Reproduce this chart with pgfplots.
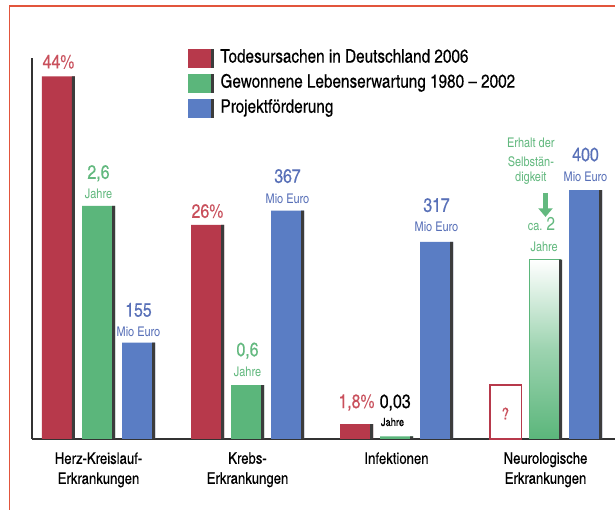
\documentclass[border=0pt]{standalone}
\usepackage{fontspec}
\setmainfont{texgyreheroscn}[Extension=.otf, UprightFont=*-regular, BoldFont=*-bold, ItalicFont=*-italic, BoldItalicFont=*-bolditalic, UprightFeatures={FakeBold=0.3}]
\newfontfamily\lightf{texgyreheroscn}[Extension=.otf, UprightFont=*-regular, BoldFont=*-bold]
\usepackage{pgfplots}
\pgfplotsset{compat=1.18}
\usetikzlibrary{arrows.meta}
\definecolor{cred}{HTML}{B7394B}
\definecolor{cgreen}{HTML}{5BB67B}
\definecolor{cblue}{HTML}{5A7DC4}
\definecolor{tred}{HTML}{C9505C}
\definecolor{tgreen}{HTML}{63B97F}
\definecolor{tblue}{HTML}{5870B8}
\definecolor{shadow}{HTML}{3C3C3C}
\definecolor{framec}{HTML}{E2553C}
\definecolor{axisc}{HTML}{333333}
\newcommand{\numf}{\fontsize{14.5}{16}\selectfont}
\newcommand{\legf}{\fontsize{14}{16}\selectfont}
\newcommand{\unitf}{\lightf\fontsize{10}{11}\selectfont}
\pgfplotsset{base/.style={
  at={(24pt,53.25pt)}, anchor=south west,
  width=437.25pt, height=285.75pt, scale only axis,
  xmin=-0.4463, xmax=3.4664, ymin=0,
  ybar, bar width=24.75pt, clip=false,
  xtick=\empty, ytick=\empty}}
\begin{document}
\begin{tikzpicture}
\useasboundingbox (0,0) rectangle (461.25pt,382.5pt);
\fill[white] (0,0) rectangle (461.25pt,382.5pt);
\draw[framec, line width=1.1pt] (7pt,0) -- (7pt,378pt) -- (461.25pt,378pt);

% red series: Todesursachen (percent)
\begin{axis}[base, ymax=46.24,
  axis x line=bottom, axis y line=left,
  axis line style={axisc, line width=1.5pt, -},
  xtick={0,1,2,3}, major tick length=0pt,
  xticklabels={{Herz-Kreislauf-\\Erkrankungen},{Krebs-\\Erkrankungen},{Infektionen},{Neurologische\\Erkrankungen}},
  xticklabel style={align=center, anchor=north, inner sep=0pt, yshift=-9.75pt, font=\fontsize{12}{15}\selectfont, text=black},
  legend style={at={(0.2676,1.0236)}, anchor=north west, draw=none, fill=none,
    inner sep=0pt, outer sep=0pt, row sep=4.9pt,
    nodes={inner sep=0pt, text height=10pt, text depth=3.5pt, font=\legf, anchor=west},
    /tikz/every odd column/.append style={column sep=5.25pt}},
  legend cell align=left]
\addplot[fill=cred, draw=none, bar shift=-30pt, forget plot] coordinates {(0,44) (1,26) (2,1.8)};
\addplot[fill=shadow, draw=none, bar width=2.25pt, bar shift=-18.75pt, forget plot] coordinates {(0,44) (1,26) (2,1.8)};
\addplot[fill=white, draw=cred, line width=1pt, bar width=23.5pt, bar shift=-30pt, forget plot] coordinates {(3,6.55)};
\addlegendimage{legend image code/.code={\fill[cred] (0pt,-6.75pt) rectangle (18.75pt,6.75pt); \fill[shadow] (17.25pt,-6.75pt) rectangle (18.75pt,6.75pt);}}
\addlegendentry{Todesursachen in Deutschland 2006}
\addlegendimage{legend image code/.code={\fill[cgreen] (0pt,-6.75pt) rectangle (18.75pt,6.75pt); \fill[shadow] (17.25pt,-6.75pt) rectangle (18.75pt,6.75pt);}}
\addlegendentry{Gewonnene Lebenserwartung 1980 -- 2002}
\addlegendimage{legend image code/.code={\fill[cblue] (0pt,-6.75pt) rectangle (18.75pt,6.75pt); \fill[shadow] (17.25pt,-6.75pt) rectangle (18.75pt,6.75pt);}}
\addlegendentry{Projektförderung}
\node[tred, font=\numf, anchor=base, inner sep=0pt, xshift=-30pt, yshift=6pt] at (axis cs:0,44) {44\%};
\node[tred, font=\numf, anchor=base, inner sep=0pt, xshift=-30pt, yshift=5.25pt] at (axis cs:1,26) {26\%};
\node[tred, font=\numf, anchor=base, inner sep=0pt, xshift=-30pt] at (axis cs:2,3.76) {1,8\%};
\node[black, font=\numf, anchor=base, inner sep=0pt, xshift=-1pt] at (axis cs:2,3.76) {0,03};
\node[black, font=\fontsize{8.5}{9}\selectfont, anchor=base, inner sep=0pt, xshift=-3pt] at (axis cs:2,1.58) {Jahre};
\node[tred, font=\fontsize{12}{12}\selectfont, inner sep=0pt, xshift=-30pt] at (axis cs:3,3.1) {?};
\end{axis}

% green series: Lebenserwartung (years)
\begin{axis}[base, ymax=4.2475, axis lines=none]
\addplot[fill=cgreen, draw=none, bar shift=0pt] coordinates {(0,2.6) (1,0.6) (2,0.03)};
\addplot[top color=white, bottom color=cgreen, middle color=cgreen!60, draw=cgreen, line width=0.75pt, bar width=23.5pt, bar shift=-0.6pt] coordinates {(3,2)};
\addplot[fill=shadow, draw=none, bar width=2.25pt, bar shift=11.25pt] coordinates {(0,2.6) (1,0.6) (2,0.03) (3,2)};
\node[tgreen, font=\numf, anchor=base, inner sep=0pt, yshift=20.25pt] at (axis cs:0,2.6) {2,6};
\node[tgreen, font=\unitf, anchor=base, inner sep=0pt, yshift=5.25pt] at (axis cs:0,2.6) {Jahre};
\node[tgreen, font=\numf, anchor=base, inner sep=0pt, yshift=21.75pt] at (axis cs:1,0.6) {0,6};
\node[tgreen, font=\unitf, anchor=base, inner sep=0pt, yshift=6.75pt] at (axis cs:1,0.6) {Jahre};
\node[tgreen, font=\unitf, anchor=base, inner sep=0pt, xshift=-1pt, yshift=6pt] at (axis cs:3,2) {Jahre};
\node[tgreen, anchor=base, inner sep=0pt, xshift=-3pt, yshift=21.75pt] at (axis cs:3,2) {{\unitf ca.} {\lightf\fontsize{14}{15}\selectfont 2}};
\draw[tgreen, line width=3.4pt, -{Triangle[width=10.5pt,length=6.5pt]}] ([yshift=50pt]axis cs:3,2) -- ([yshift=32pt]axis cs:3,2);
\node[tgreen, font=\unitf, anchor=base, inner sep=0pt, xshift=-11pt, yshift=58.5pt] at (axis cs:3,2) {digkeit};
\node[tgreen, font=\unitf, anchor=base, inner sep=0pt, xshift=-11pt, yshift=70pt] at (axis cs:3,2) {Selbstän-};
\node[tgreen, font=\unitf, anchor=base, inner sep=0pt, xshift=-11pt, yshift=84pt] at (axis cs:3,2) {Erhalt der};
\end{axis}

% blue series: Projektfoerderung (Mio Euro)
\begin{axis}[base, ymax=612.5, axis lines=none]
\addplot[fill=cblue, draw=none, bar shift=30pt] coordinates {(0,155) (1,367) (2,317) (3,400)};
\addplot[fill=shadow, draw=none, bar width=2.25pt, bar shift=41.25pt] coordinates {(0,155) (1,367) (2,317) (3,400)};
\node[tblue, font=\numf, anchor=base, inner sep=0pt, xshift=30pt, yshift=19.5pt] at (axis cs:0,155) {155};
\node[tblue, font=\unitf, anchor=base, inner sep=0pt, xshift=30pt, yshift=4.5pt] at (axis cs:0,155) {Mio Euro};
\node[tblue, font=\numf, anchor=base, inner sep=0pt, xshift=30pt, yshift=21pt] at (axis cs:1,367) {367};
\node[tblue, font=\unitf, anchor=base, inner sep=0pt, xshift=30pt, yshift=5.25pt] at (axis cs:1,367) {Mio Euro};
\node[tblue, font=\numf, anchor=base, inner sep=0pt, xshift=30pt, yshift=22.5pt] at (axis cs:2,317) {317};
\node[tblue, font=\unitf, anchor=base, inner sep=0pt, xshift=30pt, yshift=7.5pt] at (axis cs:2,317) {Mio Euro};
\node[tblue, font=\numf, anchor=base, inner sep=0pt, xshift=30pt, yshift=21.75pt] at (axis cs:3,400) {400};
\node[tblue, font=\unitf, anchor=base, inner sep=0pt, xshift=30pt, yshift=6.75pt] at (axis cs:3,400) {Mio Euro};
\end{axis}
\end{tikzpicture}
\end{document}
